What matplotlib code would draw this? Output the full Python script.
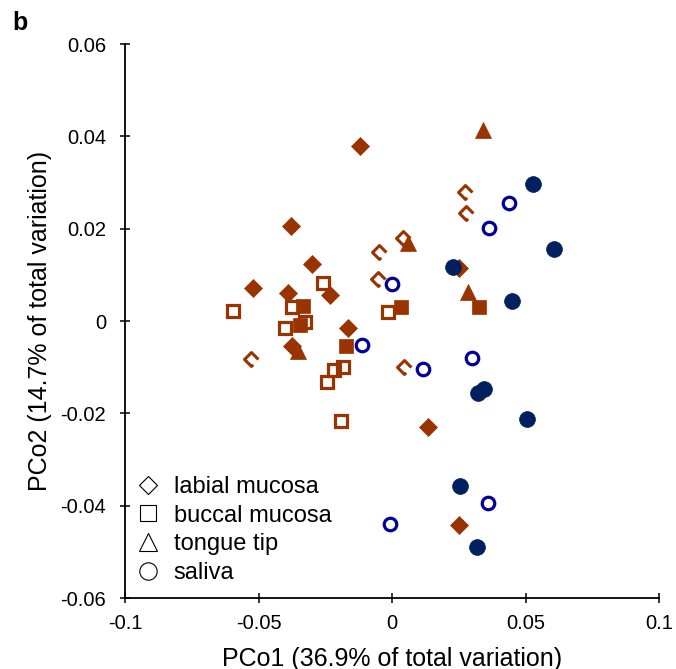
import matplotlib
matplotlib.use("Agg")
import matplotlib.pyplot as plt
from matplotlib.path import Path
from matplotlib.lines import Line2D

plt.rcParams['font.family'] = ['Liberation Sans', 'DejaVu Sans']

BROWN = '#993300'
BLUE = '#000099'
NAVY = '#002060'

# ---- data (PCo1, PCo2) ----
labial_open_x = [-0.0528, 0.0273, 0.0277, -0.0049, -0.0052, 0.0041, 0.0045]
labial_open_y = [-0.0082, 0.0279, 0.0234, 0.0149, 0.0091, 0.0180, -0.0100]

labial_fill_x = [-0.0120, -0.0378, -0.0521, -0.0300, -0.0390, -0.0232, -0.0165, -0.0375, 0.0135, 0.0251, 0.0251]
labial_fill_y = [0.0379, 0.0206, 0.0071, 0.0123, 0.0061, 0.0056, -0.0015, -0.0054, -0.0230, -0.0442, 0.0115]

buccal_open_x = [-0.0596, -0.0258, -0.0375, -0.0326, -0.0401, -0.0015, -0.0184, -0.0217, -0.0243, -0.0191]
buccal_open_y = [0.0022, 0.0082, 0.0030, -0.0002, -0.0015, 0.0019, -0.0100, -0.0106, -0.0132, -0.0217]

buccal_fill_x = [-0.0333, -0.0345, 0.0034, -0.0172, 0.0326]
buccal_fill_y = [0.0032, -0.0009, 0.0030, -0.0054, 0.0030]

tongue_fill_x = [0.0341, 0.0060, 0.0285, -0.0352]
tongue_fill_y = [0.0414, 0.0169, 0.0063, -0.0065]

saliva_open_x = [0.0438, 0.0363, 0.0000, -0.0112, 0.0116, 0.0300, 0.0360, -0.0007]
saliva_open_y = [0.0256, 0.0201, 0.0080, -0.0052, -0.0104, -0.0080, -0.0394, -0.0440]

saliva_fill_x = [0.0528, 0.0607, 0.0228, 0.0449, 0.0345, 0.0322, 0.0506, 0.0255, 0.0318]
saliva_fill_y = [0.0297, 0.0156, 0.0117, 0.0043, -0.0147, -0.0156, -0.0212, -0.0357, -0.0490]

x_ticks = [-0.1, -0.05, 0, 0.05, 0.1]
x_ticklabels = ['-0.1', '-0.05', '0', '0.05', '0.1']
y_ticks = [-0.06, -0.04, -0.02, 0, 0.02, 0.04, 0.06]
y_ticklabels = ['-0.06', '-0.04', '-0.02', '0', '0.02', '0.04', '0.06']

legend_labels = ['labial mucosa', 'buccal mucosa', 'tongue tip', 'saliva']

# open diamond drawn with a gap (as in the reference rendering)
open_diamond = Path([(0.5, 0.0), (0.0, 0.5), (-0.5, 0.0), (0.0, -0.5), (0.12, -0.38)],
                    [Path.MOVETO, Path.LINETO, Path.LINETO, Path.LINETO, Path.LINETO])

fig = plt.figure(figsize=(6.76, 6.69), dpi=100)
ax = fig.add_axes([0.1849, 0.1061, 0.79, 0.8281])

ax.plot(labial_fill_x, labial_fill_y, ls='none', marker='D', ms=9.4, mfc=BROWN, mec=BROWN, mew=0.5)
ax.plot(buccal_open_x, buccal_open_y, ls='none', marker='s', ms=8.8, mfc='none', mec=BROWN, mew=2.3)
ax.plot(buccal_fill_x, buccal_fill_y, ls='none', marker='s', ms=10.4, mfc=BROWN, mec=BROWN, mew=0.5)
ax.plot(labial_open_x, labial_open_y, ls='none', marker=open_diamond, ms=10, mfc='none', mec=BROWN, mew=2.2)
ax.plot(tongue_fill_x, tongue_fill_y, ls='none', marker='^', ms=11.2, mfc=BROWN, mec=BROWN, mew=0.5)
ax.plot(saliva_open_x, saliva_open_y, ls='none', marker='o', ms=9.0, mfc='none', mec=BLUE, mew=2.3)
ax.plot(saliva_fill_x, saliva_fill_y, ls='none', marker='o', ms=11.4, mfc=NAVY, mec=NAVY, mew=0.5)

ax.set_xlim(-0.1, 0.1)
ax.set_ylim(-0.06, 0.06)
ax.set_xticks(x_ticks)
ax.set_xticklabels(x_ticklabels)
ax.set_yticks(y_ticks)
ax.set_yticklabels(y_ticklabels)

for s in ['top', 'right']:
    ax.spines[s].set_visible(False)
for s in ['left', 'bottom']:
    ax.spines[s].set_linewidth(1.3)
ax.tick_params(direction='inout', length=6.5, width=1.1, labelsize=14.5, colors='black')
ax.tick_params(axis='y', pad=10.5)
ax.tick_params(axis='x', pad=8)

ax.set_xlabel('PCo1 (36.9% of total variation)', fontsize=18, labelpad=10)
ax.set_ylabel('PCo2 (14.7% of total variation)', fontsize=18, labelpad=6)

handles = [Line2D([], [], ls='none', marker='D', ms=9.5, mfc='white', mec='black', mew=0.8),
           Line2D([], [], ls='none', marker='s', ms=11, mfc='white', mec='black', mew=0.8),
           Line2D([], [], ls='none', marker='^', ms=13, mfc='white', mec='black', mew=0.8),
           Line2D([], [], ls='none', marker='o', ms=12.5, mfc='white', mec='black', mew=0.8)]
ax.legend(handles, legend_labels, loc='lower left', bbox_to_anchor=(-0.006, 0.0),
          frameon=False, fontsize=17, handlelength=1.0, handletextpad=0.6,
          labelspacing=0.28, borderpad=0.3, borderaxespad=0.3)

fig.text(0.018, 0.955, 'b', fontsize=18, fontweight='bold')

fig.savefig('out.png', dpi=100)
